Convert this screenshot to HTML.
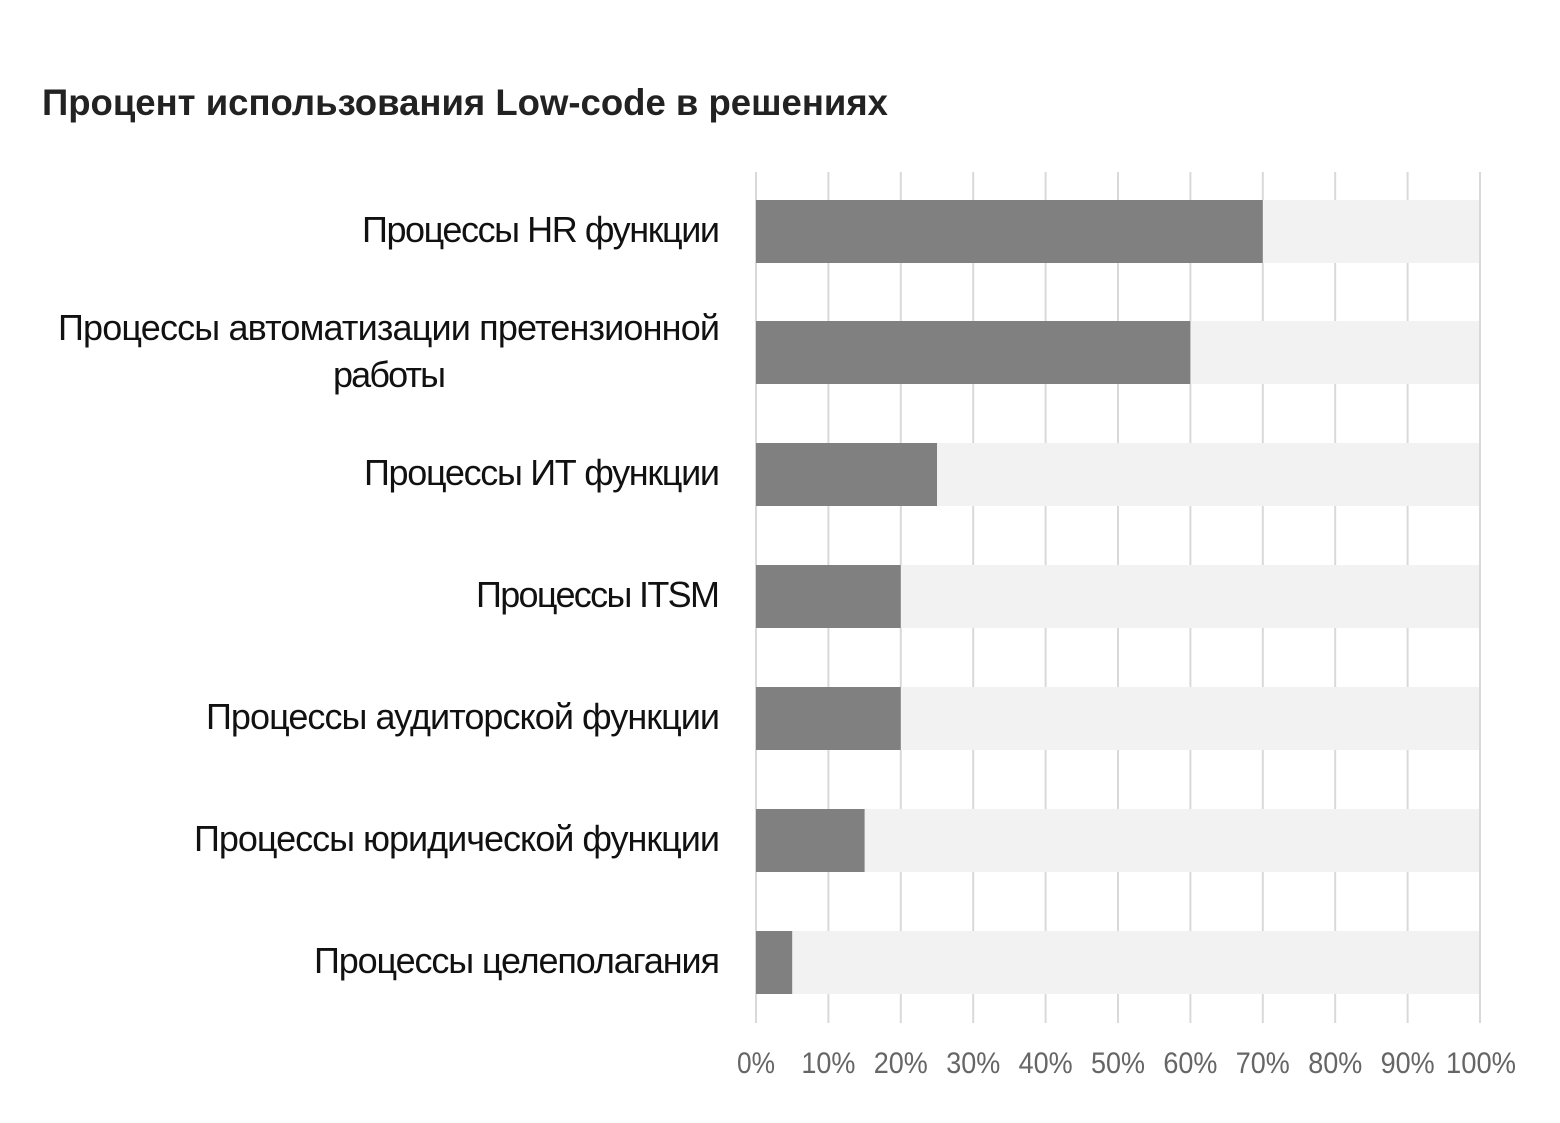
<!DOCTYPE html>
<html><head><meta charset="utf-8"><style>
html,body{margin:0;padding:0;background:#fff;}
svg{display:block;}
text{font-family:"Liberation Sans",sans-serif;}
</style></head><body>
<svg width="1560" height="1123" viewBox="0 0 1560 1123" xmlns="http://www.w3.org/2000/svg">
<text x="42" y="115" font-size="37" font-weight="bold" fill="#222" textLength="846" lengthAdjust="spacingAndGlyphs">Процент использования Low-code в решениях</text>
<g fill="#f2f2f2">
<rect x="756" y="200" width="724" height="63"/>
<rect x="756" y="321" width="724" height="63"/>
<rect x="756" y="443" width="724" height="63"/>
<rect x="756" y="565" width="724" height="63"/>
<rect x="756" y="687" width="724" height="63"/>
<rect x="756" y="809" width="724" height="63"/>
<rect x="756" y="931" width="724" height="63"/>
</g>
<g stroke="#d9d9d9" stroke-width="2">
<line x1="756" y1="172" x2="756" y2="1023"/>
<line x1="828.4" y1="172" x2="828.4" y2="1023"/>
<line x1="900.8" y1="172" x2="900.8" y2="1023"/>
<line x1="973.2" y1="172" x2="973.2" y2="1023"/>
<line x1="1045.6" y1="172" x2="1045.6" y2="1023"/>
<line x1="1118" y1="172" x2="1118" y2="1023"/>
<line x1="1190.4" y1="172" x2="1190.4" y2="1023"/>
<line x1="1262.8" y1="172" x2="1262.8" y2="1023"/>
<line x1="1335.2" y1="172" x2="1335.2" y2="1023"/>
<line x1="1407.6" y1="172" x2="1407.6" y2="1023"/>
<line x1="1480" y1="172" x2="1480" y2="1023"/>
</g>
<g fill="#f2f2f2">
<rect x="757" y="200" width="722" height="63"/>
<rect x="757" y="321" width="722" height="63"/>
<rect x="757" y="443" width="722" height="63"/>
<rect x="757" y="565" width="722" height="63"/>
<rect x="757" y="687" width="722" height="63"/>
<rect x="757" y="809" width="722" height="63"/>
<rect x="757" y="931" width="722" height="63"/>
</g>
<g fill="#808080">
<rect x="756" y="200" width="506.8" height="63"/>
<rect x="756" y="321" width="434.4" height="63"/>
<rect x="756" y="443" width="181" height="63"/>
<rect x="756" y="565" width="144.8" height="63"/>
<rect x="756" y="687" width="144.8" height="63"/>
<rect x="756" y="809" width="108.6" height="63"/>
<rect x="756" y="931" width="36.2" height="63"/>
</g>
<g font-size="36" fill="#111" lengthAdjust="spacingAndGlyphs">
<text x="362" y="242" textLength="358">Процессы HR функции</text>
<text x="58" y="340" textLength="662">Процессы автоматизации претензионной</text>
<text x="333" y="387" textLength="113">работы</text>
<text x="364" y="485" textLength="356">Процессы ИТ функции</text>
<text x="476" y="607" textLength="244">Процессы ITSM</text>
<text x="206" y="729" textLength="514">Процессы аудиторской функции</text>
<text x="194" y="851" textLength="526">Процессы юридической функции</text>
<text x="314" y="973" textLength="406">Процессы целеполагания</text>
</g>
<g font-size="30" fill="#666" text-anchor="middle">
<text x="756" y="1073" textLength="38" lengthAdjust="spacingAndGlyphs">0%</text>
<text x="828.4" y="1073" textLength="54" lengthAdjust="spacingAndGlyphs">10%</text>
<text x="900.8" y="1073" textLength="54" lengthAdjust="spacingAndGlyphs">20%</text>
<text x="973.2" y="1073" textLength="54" lengthAdjust="spacingAndGlyphs">30%</text>
<text x="1045.6" y="1073" textLength="54" lengthAdjust="spacingAndGlyphs">40%</text>
<text x="1118" y="1073" textLength="54" lengthAdjust="spacingAndGlyphs">50%</text>
<text x="1190.4" y="1073" textLength="54" lengthAdjust="spacingAndGlyphs">60%</text>
<text x="1262.8" y="1073" textLength="54" lengthAdjust="spacingAndGlyphs">70%</text>
<text x="1335.2" y="1073" textLength="54" lengthAdjust="spacingAndGlyphs">80%</text>
<text x="1407.6" y="1073" textLength="54" lengthAdjust="spacingAndGlyphs">90%</text>
<text x="1481" y="1073" textLength="70" lengthAdjust="spacingAndGlyphs">100%</text>
</g>
</svg>
</body></html>
